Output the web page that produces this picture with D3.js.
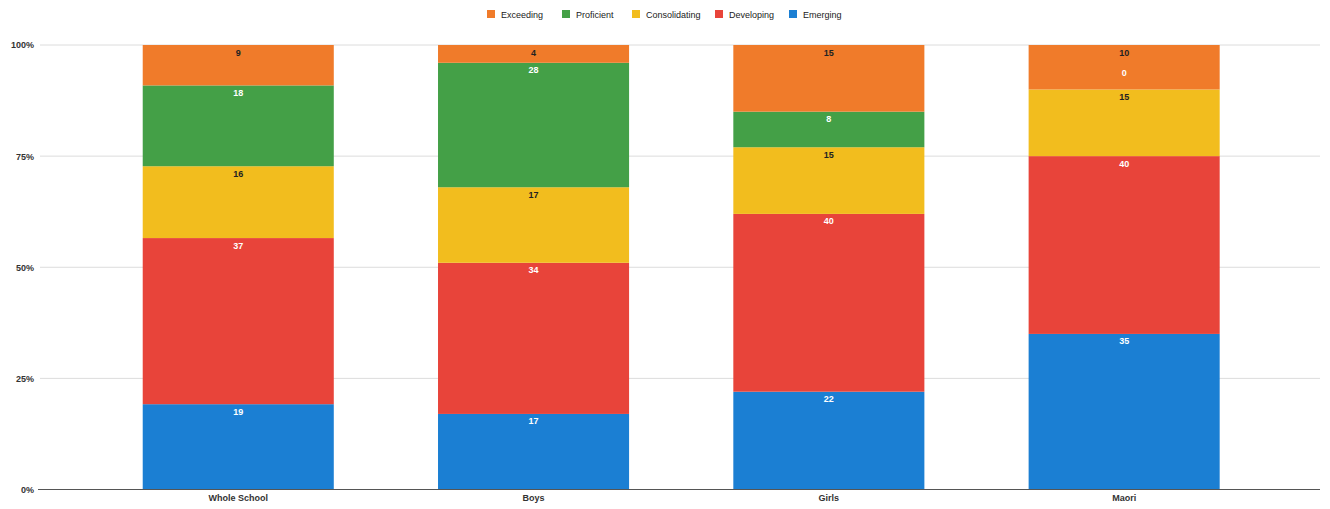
<!DOCTYPE html>
<html><head><meta charset="utf-8">
<script src="https://cdn.jsdelivr.net/npm/d3@7"></script>
<style>body{margin:0;background:#fff;} svg{display:block;font-family:"Liberation Sans",Arial,sans-serif;}</style>
</head><body>
<svg id="c" width="1330" height="509"></svg>
<script>
const categories = ["Whole School","Boys","Girls","Maori"];
const seriesNames = ["Emerging","Developing","Consolidating","Proficient","Exceeding"];
const emerging = [19,17,22,35];
const developing = [37,34,40,40];
const consolidating = [16,17,15,15];
const proficient = [18,28,8,0];
const exceeding = [9,4,15,10];
const yTicks = [0,0.25,0.5,0.75,1];
const legendOrder = ["Exceeding","Proficient","Consolidating","Developing","Emerging"];

const colors = {Emerging:"#1b7fd3",Developing:"#e8443a",Consolidating:"#f2bd1e",Proficient:"#44a047",Exceeding:"#f07b2a"};
const labelColors = {Emerging:"#fff",Developing:"#fff",Consolidating:"#222",Proficient:"#fff",Exceeding:"#222"};

const rows = categories.map((c,i)=>({cat:c,Emerging:emerging[i],Developing:developing[i],Consolidating:consolidating[i],Proficient:proficient[i],Exceeding:exceeding[i]}));
const stack = d3.stack().keys(seriesNames).offset(d3.stackOffsetExpand);
const series = stack(rows);

const svg = d3.select("#c");
const x = d3.scaleBand().domain(categories).range([90.6,1271.8]).paddingInner(0.353).paddingOuter(0.1765);
const y = d3.scaleLinear().domain([0,1]).range([489.5,45]);

// gridlines
svg.append("g").selectAll("line").data(yTicks.filter(t=>t>0)).join("line")
  .attr("x1",40).attr("x2",1320).attr("y1",d=>y(d)).attr("y2",d=>y(d))
  .attr("stroke","#dcdcdc").attr("stroke-width",1);

// y axis labels
const yAxis = d3.axisLeft(y).tickValues(yTicks).tickFormat(d3.format(".0%")).tickSize(0).tickPadding(0);
const ga = svg.append("g").attr("transform","translate(34,0)").call(yAxis);
ga.select(".domain").remove();
ga.selectAll("text").attr("font-size",9).attr("fill","#333").attr("font-weight","bold");

// bars
const g = svg.append("g");
series.forEach(s=>{
  g.append("g").attr("fill",colors[s.key]).selectAll("rect").data(s).join("rect")
    .attr("x",d=>x(d.data.cat)).attr("width",x.bandwidth())
    .attr("y",d=>y(d[1])).attr("height",d=>y(d[0])-y(d[1]));
});
// labels
series.forEach(s=>{
  g.append("g").selectAll("text").data(s).join("text")
    .attr("x",d=>x(d.data.cat)+x.bandwidth()/2)
    .attr("y",d=>{const v=d.data[s.key]; return v===0 ? y(d[1])-13 : y(d[1])+10.5;})
    .attr("text-anchor","middle").attr("font-size",9).attr("font-weight","bold")
    .attr("fill",d=>d.data[s.key]===0?"#fff":labelColors[s.key])
    .text(d=>d.data[s.key]);
});

// x axis
const xAxis = d3.axisBottom(x).tickSize(0).tickPadding(5);
const gx = svg.append("g").attr("transform","translate(0,489.5)").call(xAxis);
gx.select(".domain").remove();
gx.selectAll("text").attr("font-size",9).attr("fill","#333").attr("font-weight","bold");
svg.append("line").attr("x1",38).attr("x2",1320).attr("y1",489.5).attr("y2",489.5).attr("stroke","#555").attr("stroke-width",1);

// legend
const legX = [487,562,632,715,789];
const lg = svg.append("g");
legendOrder.forEach((k,i)=>{
  lg.append("rect").attr("x",legX[i]).attr("y",10).attr("width",8).attr("height",8).attr("fill",colors[k]);
  lg.append("text").attr("x",legX[i]+14).attr("y",17.5).attr("font-size",9).attr("fill","#222").text(k);
});
</script>
</body></html>
